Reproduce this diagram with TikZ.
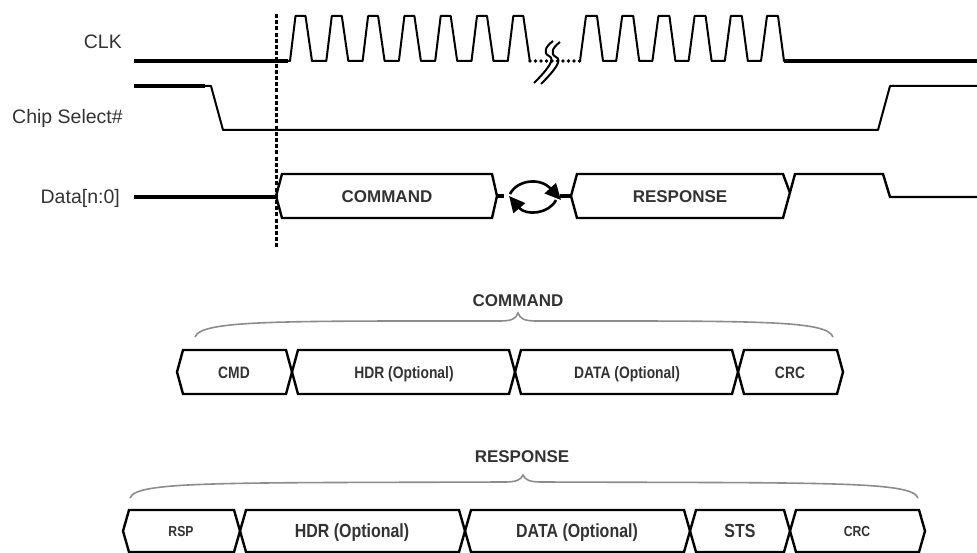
\documentclass[tikz,border=0pt]{standalone}
\usepackage{fontspec}
\setmainfont{Liberation Sans}
\newfontfamily\narrowfont[FakeStretch=0.84]{Liberation Sans}
\usetikzlibrary{arrows.meta}
\definecolor{txt}{HTML}{333333}
\definecolor{bracegray}{HTML}{8C8C8C}
\tikzset{
  lbl/.style={anchor=base east, inner sep=0pt, text=txt, font=\fontsize{19.5}{22}\selectfont},
  sig/.style={line width=2pt, line join=round},
  thk/.style={line width=3.6pt},
  bus/.style={line width=2.4pt, line join=miter},
  bigtxt/.style={inner sep=0pt, text=txt, text height=12.3pt, text depth=0pt, font=\bfseries\fontsize{17}{20}\selectfont},
  cmdtxt/.style={inner sep=0pt, text=txt, text height=12pt, text depth=0pt, font=\narrowfont\bfseries\fontsize{16.5}{19}\selectfont},
  rsptxt/.style={inner sep=0pt, text=txt, text height=13.5pt, text depth=0pt, font=\narrowfont\bfseries\fontsize{19}{22}\selectfont},
  rspsmall/.style={inner sep=0pt, text=txt, text height=10.5pt, text depth=0pt, font=\narrowfont\bfseries\fontsize{14.5}{17}\selectfont},
  bracestyle/.style={draw=bracegray, line width=1.6pt},
  arc/.style={line width=2.6pt, -{Triangle[length=16pt,width=15pt]}},
  dots/.style={line width=3.8pt, line cap=round, dash pattern=on 0pt off 5.5pt},
  vdash/.style={line width=3pt, dash pattern=on 4pt off 2.2pt}
}
\begin{document}
\begin{tikzpicture}[x=1pt,y=-1pt]
\useasboundingbox (0,0) rectangle (977,553);
\fill[white] (0,0) rectangle (977,553);

% labels
\node[lbl] (clk) at (122,49) {CLK};
\node[lbl] (cs) at (123,124) {Chip Select\#};
\node[lbl] (data) at (120,204) {Data[n:0]};

% CLK
\draw[thk] (134,61) -- (288,61);
\draw[sig] (287,61) \foreach \k in {0,...,6} { -- ({290+36.3*\k},61) -- ({295.5+36.3*\k},16) -- ({305.5+36.3*\k},16) -- ({312+36.3*\k},61) };
\draw[dots] (530,61) -- (580,61);
\draw[sig] (579,61) \foreach \k in {0,...,5} { -- ({580+36.2*\k},61) -- ({586+36.2*\k},16) -- ({597+36.2*\k},16) -- ({603+36.2*\k},61) } -- (786,61);
\draw[thk] (784,61) -- (977,61);
% break symbol
\draw[sig] (553,41) .. controls (545,47) and (543,53) .. (549,56) .. controls (556,59) and (547,70) .. (534,83);
\draw[sig] (560,42) .. controls (552,48) and (550,54) .. (556,57) .. controls (563,60) and (554,71) .. (541,84);

% Chip select
\draw[thk] (134,86) -- (205,86);
\draw[sig] (204,86) -- (211,86) -- (223,130) -- (878,130) -- (890,86) -- (977,86);

% Data bus
\draw[thk] (134,197) -- (276,197);
\draw[bus] (276,196) -- (282,174) -- (492,174) -- (497,196) -- (492,218) -- (282,218) -- cycle;
\node[bigtxt] (cmdtop) at (387,196) {COMMAND};
\draw[thk] (497,196) -- (504,196);
\draw[thk] (560,196) -- (571,196);
\draw[arc] (510,194) .. controls (517,180) and (540,177) .. (561,200);
\draw[arc] (556,200) .. controls (549,214) and (526,216) .. (509,196);
\draw[bus] (571,196) -- (577,174) -- (783,174) -- (790,193);
\draw[bus] (571,196) -- (577,218) -- (783,218) -- (795,174) -- (883,174) -- (890,197) -- (977,197);
\node[bigtxt] (rsptop) at (680,196) {RESPONSE};

% dashed vertical marker
\draw[vdash] (276,14) -- (276,247);

% COMMAND breakdown
\node[bigtxt] (cmdhdr) at (518,300) {COMMAND};
\draw[bracestyle] (195,337) .. controls (201,320) and (280,321) .. (500,321) .. controls (511,321) and (516,319) .. (518,313) .. controls (520,319) and (525,321) .. (536,321) .. controls (756,321) and (827,320) .. (833,337);
\foreach \a/\b in {177/292, 292/515, 515/738, 738/843}
  \draw[bus] (\a,372) -- ({\a+6},350) -- ({\b-6},350) -- (\b,372) -- ({\b-6},394) -- ({\a+6},394) -- cycle;
\node[cmdtxt] (ccmd) at (234,372) {CMD};
\node[cmdtxt] (chdr) at (404,372) {HDR (Optional)};
\node[cmdtxt] (cdata) at (627,372) {DATA (Optional)};
\node[cmdtxt] (ccrc) at (790,372) {CRC};

% RESPONSE breakdown
\node[bigtxt] (rsphdr) at (522,456) {RESPONSE};
\draw[bracestyle] (130,498) .. controls (136,481) and (220,483) .. (505,482) .. controls (516,482) and (521,480) .. (523,475) .. controls (525,480) and (530,482) .. (541,482) .. controls (826,483) and (912,481) .. (918,498);
\foreach \a/\b in {123/240, 240/465, 465/690, 690/790, 790/925}
  \draw[bus] (\a,531) -- ({\a+6},510) -- ({\b-6},510) -- (\b,531) -- ({\b-6},552) -- ({\a+6},552) -- cycle;
\node[rspsmall] (rrsp) at (181,531) {RSP};
\node[rsptxt] (rhdr) at (352,531) {HDR (Optional)};
\node[rsptxt] (rdata) at (577,531) {DATA (Optional)};
\node[rsptxt] (rsts) at (740,531) {STS};
\node[rspsmall] (rcrc) at (857,531) {CRC};
\end{tikzpicture}
\end{document}
